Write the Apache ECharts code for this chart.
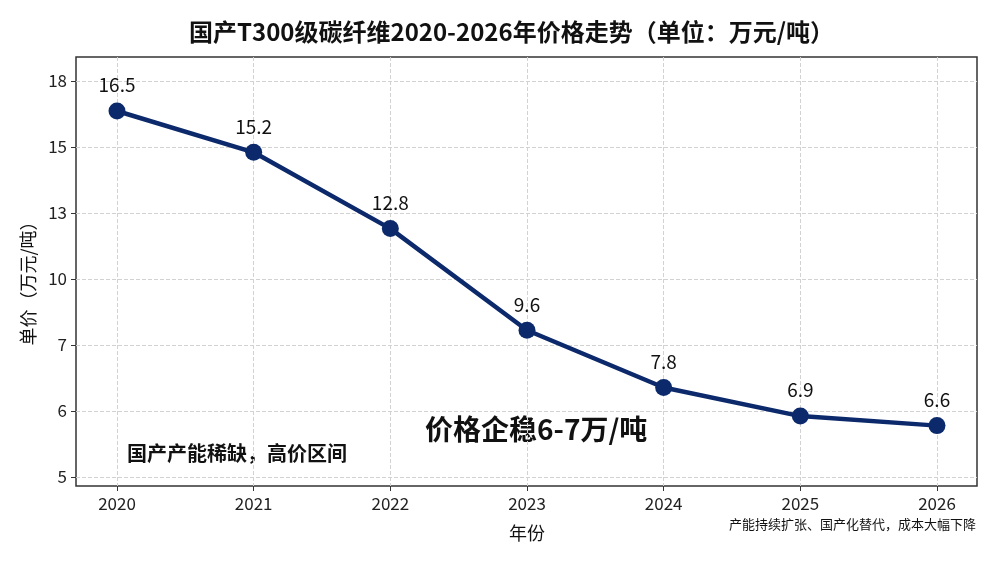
<!DOCTYPE html>
<html>
<head>
<meta charset="utf-8">
<script src="https://cdn.jsdelivr.net/npm/echarts@6/dist/echarts.min.js"></script>
<style>
  html, body { margin: 0; padding: 0; background: #fff; }
  #chart { width: 1000px; height: 561px; }
</style>
</head>
<body>
<div id="chart"></div>
<script>
const years = ['2020', '2021', '2022', '2023', '2024', '2025', '2026']
const prices = [16.5, 15.2, 12.8, 9.6, 7.8, 6.9, 6.6]
const yTickLabels = ['5', '6', '7', '10', '13', '15', '18']

const titleText = '国产T300级碳纤维2020-2026年价格走势（单位：万元/吨）'
const noteLeft = '国产产能稀缺，高价区间'
const noteMid = '价格企稳6-7万/吨'
const noteBottom = '产能持续扩张、国产化替代，成本大幅下降'

const font = '"Noto Sans CJK SC", "Noto Sans", sans-serif'
const gridLine = { type: 'dashed', color: '#d2d2d2', width: 1 }

const chart = echarts.init(document.getElementById('chart'))

chart.setOption({
  backgroundColor: '#fff',
  textStyle: { fontFamily: font },
  title: {
    text: titleText,
    left: 184,
    top: 15,
    textStyle: { fontSize: 24, fontWeight: 'bold', color: '#111', fontFamily: font }
  },
  grid: [
    // frame
    { left: 76, right: 23, top: 57, bottom: 75, show: true, borderColor: '#333', borderWidth: 1.5, backgroundColor: 'transparent' },
    // years + data
    { left: 117, right: 63, top: 57, bottom: 75 },
    // y tick labels
    { left: 76, right: 23, top: 81, bottom: 84 }
  ],
  xAxis: [
    { gridIndex: 0, type: 'value', show: false },
    {
      gridIndex: 1,
      type: 'category',
      data: years,
      boundaryGap: false,
      name: '年份',
      nameLocation: 'middle',
      nameGap: 38,
      nameTextStyle: { fontSize: 18, color: '#111' },
      axisLine: { show: false },
      axisTick: { show: true, length: 5, lineStyle: { color: '#333' } },
      axisLabel: { fontSize: 17, color: '#222', margin: 9 },
      splitLine: { show: true, lineStyle: gridLine }
    },
    { gridIndex: 2, type: 'value', show: false }
  ],
  yAxis: [
    { gridIndex: 0, type: 'value', show: false },
    { gridIndex: 1, type: 'value', min: 4.7, max: 18.2, show: false },
    {
      gridIndex: 2,
      type: 'value',
      min: 0,
      max: 6,
      interval: 1,
      name: '单价（万元/吨）',
      nameLocation: 'middle',
      nameGap: 38,
      nameRotate: 90,
      nameTextStyle: { fontSize: 18, color: '#111' },
      axisLine: { show: false },
      axisTick: { show: true, length: 5, lineStyle: { color: '#333' } },
      axisLabel: {
        fontSize: 17,
        color: '#222',
        margin: 9,
        formatter: (v) => yTickLabels[v] || ''
      },
      splitLine: { show: true, lineStyle: gridLine }
    }
  ],
  series: [
    {
      type: 'line',
      xAxisIndex: 1,
      yAxisIndex: 1,
      data: prices,
      symbol: 'circle',
      symbolSize: 17,
      lineStyle: { color: '#0c2a6b', width: 4.5 },
      itemStyle: { color: '#0c2a6b' },
      label: {
        show: true,
        position: 'top',
        distance: 8,
        fontSize: 19,
        color: '#111'
      },
      z: 5
    }
  ],
  graphic: [
    {
      type: 'text',
      left: 127,
      top: 443,
      style: { text: noteLeft, font: 'bold 20px ' + font, fill: '#111' }
    },
    {
      type: 'text',
      left: 425,
      top: 415,
      style: { text: noteMid, font: 'bold 28px ' + font, fill: '#111' }
    },
    {
      type: 'text',
      right: 24,
      top: 518,
      style: { text: noteBottom, font: '13px ' + font, fill: '#111' }
    }
  ]
})
</script>
</body>
</html>
